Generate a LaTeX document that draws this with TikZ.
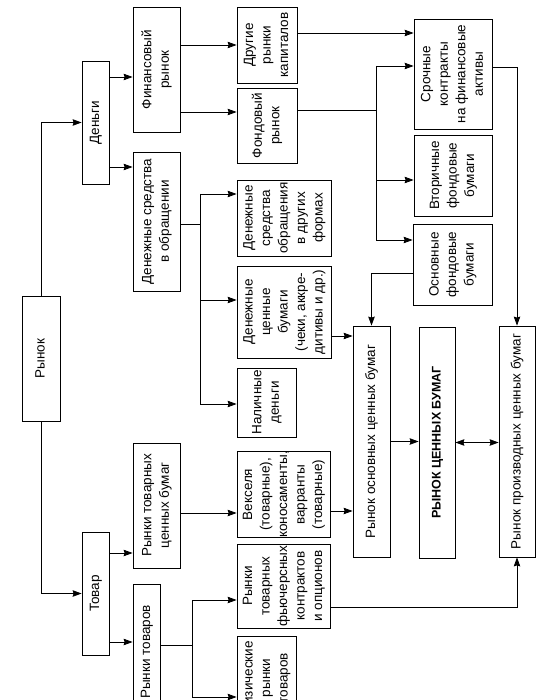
\documentclass[tikz,border=0pt]{standalone}
\usepackage{fontspec}
\setmainfont{Liberation Sans}
\usetikzlibrary{arrows.meta}
\newcommand\vtxt[2][17.5pt]{\rotatebox{90}{\baselineskip=#1\relax\begin{tabular}{@{}c@{}}#2\end{tabular}}}
\begin{document}
\begin{tikzpicture}[x=1pt,y=-1pt,
  box/.style={draw, line width=0.8pt, inner sep=0pt, font=\fontsize{13.5}{17.5}\selectfont},
  arr/.style={line width=0.8pt, -{Stealth[length=9pt,width=6.5pt,inset=1pt]}},
  ln/.style={line width=0.8pt},
  darr/.style={line width=0.8pt, {Stealth[length=9pt,width=6.5pt,inset=1pt]}-{Stealth[length=9pt,width=6.5pt,inset=1pt]}}]
\useasboundingbox (0,0) rectangle (541,700);
\clip (0,0) rectangle (541,700);
\fill[white] (0,0) rectangle (541,700);

\node[box, minimum width=38pt, minimum height=125pt] (rynok) at (41,358.5) {\vtxt{Рынок}};
\node[box, minimum width=27pt, minimum height=123pt] (dengi) at (95.5,122.5) {\vtxt{Деньги}};
\node[box, minimum width=27pt, minimum height=123pt] (tovar) at (95.5,593.5) {\vtxt{Товар}};

\node[box, minimum width=47pt, minimum height=125pt] (fin) at (156.5,69.5) {\vtxt[23pt]{Финансовый\\рынок}};
\node[box, minimum width=47pt, minimum height=139pt] (dso) at (156.5,221.5) {\vtxt[17pt]{Денежные средства\\в обращении}};
\node[box, minimum width=47pt, minimum height=125pt] (rtcb) at (156.5,505.5) {\vtxt[14pt]{Рынки товарных\\ценных бумаг}};
\node[box, minimum width=27pt, minimum height=136pt] (rt) at (146.5,652) {\vtxt{Рынки товаров}};

\node[box, minimum width=60pt, minimum height=76pt] (oth) at (267,45) {\vtxt{Другие\\рынки\\капиталов}};
\node[box, minimum width=60pt, minimum height=75pt] (fond) at (267,125.5) {\vtxt[20pt]{Фондовый\\рынок}};
\node[box, minimum width=94pt, minimum height=76pt] (dsdf) at (284,218) {\vtxt{Денежные\\средства\\обращения\\в других\\формах}};
\node[box, minimum width=94pt, minimum height=92pt] (dcb) at (284,312) {\vtxt{Денежные\\ценные\\бумаги\\(чеки, аккре-\\дитивы и др.)}};
\node[box, minimum width=59pt, minimum height=69pt] (nal) at (266.5,402.5) {\vtxt[20pt]{Наличные\\деньги}};
\node[box, minimum width=93pt, minimum height=85pt] (veks) at (283.5,494.5) {\vtxt[17pt]{Векселя\\(товарные),\\коносаменты,\\варранты\\(товарные)}};
\node[box, minimum width=93pt, minimum height=84pt] (fut) at (283.5,586) {\vtxt[17pt]{Рынки\\товарных\\фьючерсных\\контрактов\\и опционов}};
\node[box, minimum width=59pt, minimum height=84pt] (phys) at (266.5,678) {\vtxt[20pt]{Физические\\рынки\\товаров}};

\node[box, minimum width=78pt, minimum height=110pt] (srok) at (453,74) {\vtxt{Срочные\\контракты\\на финансовые\\активы}};
\node[box, minimum width=78pt, minimum height=81pt] (vtor) at (453,175.5) {\vtxt{Вторичные\\фондовые\\бумаги}};
\node[box, minimum width=79pt, minimum height=81pt] (osn) at (452.5,264.5) {\vtxt{Основные\\фондовые\\бумаги}};

\node[box, minimum width=37pt, minimum height=231pt] (rocb) at (371.5,441.5) {\vtxt{Рынок основных ценных бумаг}};
\node[box, minimum width=36pt, minimum height=231pt] (rcb) at (437,442.5) {\vtxt{\fontsize{12.5}{15}\selectfont\bfseries РЫНОК ЦЕННЫХ БУМАГ}};
\node[box, minimum width=36pt, minimum height=231pt] (rpcb) at (517,441.5) {\vtxt{Рынок производных ценных бумаг}};

% Rynok
\draw[arr] (rynok.north) |- (dengi.west);
\draw[arr] (rynok.south) |- (tovar.west);

% Dengi
\coordinate (finin) at ([yshift=-7.5pt]fin.west);
\coordinate (dsoin) at ([yshift=54.5pt]dso.west);
\draw[arr] (finin -| dengi.east) -- (finin);
\draw[arr] (dsoin -| dengi.east) -- (dsoin);

% Tovar
\coordinate (rtcbin) at ([yshift=-47.5pt]rtcb.west);
\coordinate (rtin) at ([yshift=10pt]rt.west);
\draw[arr] (rtcbin -| tovar.east) -- (rtcbin);
\draw[arr] (rtin -| tovar.east) -- (rtin);

% Financial market
\draw[arr] (fin.east |- oth.west) -- (oth.west);
\coordinate (fondin) at ([yshift=13.5pt]fond.west);
\draw[arr] (fondin -| fin.east) -- (fondin);

% Other capital markets -> srok
\coordinate (othout) at ([yshift=12pt]oth.east);
\draw[arr] (othout) -- (othout -| srok.west);

% Fondovy bus
\coordinate (fbus) at (376,0);
\coordinate (fondout) at ([yshift=15.5pt]fond.east);
\coordinate (srokin) at ([yshift=8pt]srok.west);
\coordinate (vtorin) at ([yshift=-4.5pt]vtor.west);
\coordinate (osnin) at ([yshift=24.5pt]osn.west);
\draw[ln] (fondout) -- (fondout -| fbus);
\draw[ln] (fbus |- srokin) -- (fbus |- osnin);
\draw[arr] (fbus |- srokin) -- (srokin);
\draw[arr] (fbus |- vtorin) -- (vtorin);
\draw[arr] (fbus |- osnin) -- (osnin);

% osn -> rocb, srok -> rpcb
\draw[arr] ([yshift=-8.5pt]osn.west) -| (rocb.north);
\draw[arr] ([yshift=7pt]srok.east) -| (rpcb.north);

% Denezhnye sredstva bus
\coordinate (dbus) at (200,0);
\coordinate (dsdfin) at ([yshift=24pt]dsdf.west);
\coordinate (dcbin) at ([yshift=12pt]dcb.west);
\coordinate (nalin) at ([yshift=-1.5pt]nal.west);
\draw[ln] ([yshift=-2.5pt]dso.east) -- ([yshift=-2.5pt]dso.east -| dbus);
\draw[ln] (dbus |- dsdfin) -- (dbus |- nalin);
\draw[arr] (dbus |- dsdfin) -- (dsdfin);
\draw[arr] (dbus |- dcbin) -- (dcbin);
\draw[arr] (dbus |- nalin) -- (nalin);

% to rocb
\coordinate (dcbout) at ([yshift=-24pt]dcb.east);
\draw[arr] (dcbout) -- (dcbout -| rocb.west);
\coordinate (veksout) at ([yshift=-16.5pt]veks.east);
\draw[arr] (veksout) -- (veksout -| rocb.west);

% rtcb -> veks
\coordinate (veksin) at ([yshift=-18.5pt]veks.west);
\draw[arr] (veksin -| rtcb.east) -- (veksin);

% Rynki tovarov bus
\coordinate (tbus) at (192,0);
\coordinate (rtout) at ([yshift=7pt]rt.east);
\coordinate (futin) at ([yshift=-14pt]fut.west);
\coordinate (physin) at ([yshift=-19pt]phys.west);
\draw[ln] (rtout) -- (rtout -| tbus);
\draw[ln] (tbus |- futin) -- (tbus |- physin);
\draw[arr] (tbus |- futin) -- (futin);
\draw[arr] (tbus |- physin) -- (physin);

% fut -> rpcb
\draw[arr] ([yshift=-21pt]fut.east) -| (rpcb.south);

% central
\draw[arr] (rocb.east) -- (rocb.east -| rcb.west);
\draw[darr] (rcb.east) -- (rcb.east -| rpcb.west);
\end{tikzpicture}
\end{document}
